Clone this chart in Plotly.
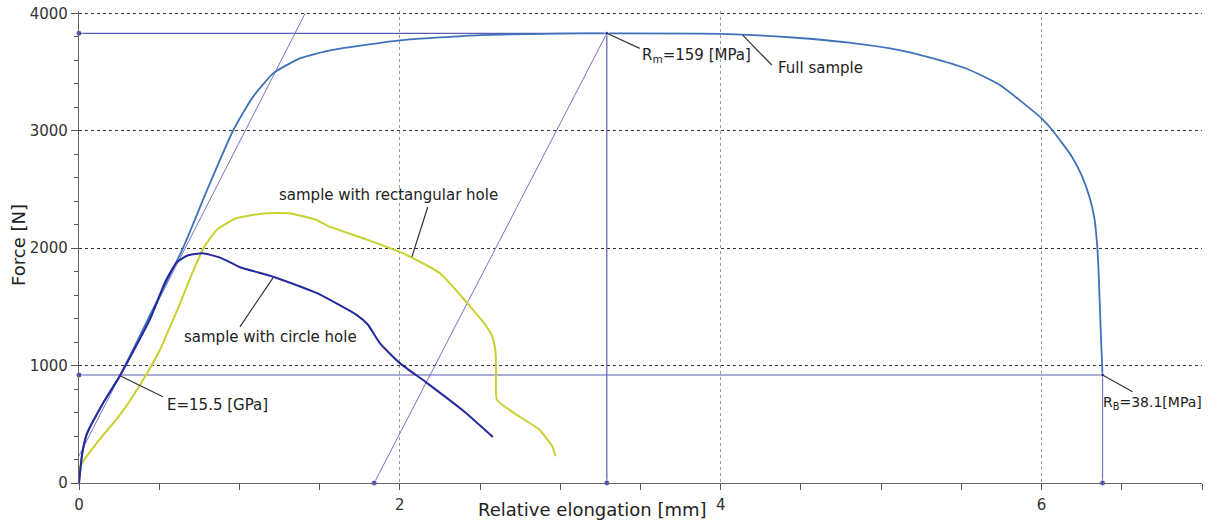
import plotly.graph_objects as go

# ---------------- data ----------------
full_x = [0, 0.02, 0.05, 0.15, 0.255, 0.45, 0.648, 0.80, 0.96, 1.08, 1.21, 1.377, 1.58, 2.0, 2.5, 3.0, 3.29,
          4.0, 4.49, 4.8, 5.12, 5.3, 5.53, 5.74, 6.0, 6.07, 6.19, 6.25, 6.30, 6.33, 6.345, 6.355, 6.37, 6.38]
full_y = [0, 250, 425, 680, 913, 1450, 2000, 2500, 3000, 3280, 3489, 3617, 3688, 3770, 3815, 3828, 3830,
          3826, 3790, 3750, 3685, 3625, 3530, 3390, 3106, 3000, 2777, 2620, 2430, 2250, 2050, 1815, 1247, 920]

circle_x = [0, 0.02, 0.05, 0.15, 0.255, 0.44, 0.54, 0.61, 0.68, 0.77, 0.88, 1.0, 1.21, 1.48, 1.73, 1.80, 1.875,
            2.0, 2.17, 2.39, 2.58]
circle_y = [0, 250, 420, 680, 913, 1387, 1720, 1880, 1940, 1956, 1920, 1840, 1757, 1619, 1432, 1350, 1191,
            1021, 851, 621, 391]

rect_x = [0, 0.006, 0.11, 0.255, 0.40, 0.505, 0.567, 0.63, 0.71, 0.78, 0.86, 0.98, 1.17, 1.31, 1.48, 1.55, 1.79,
          2.02, 2.25, 2.42, 2.54, 2.575, 2.595, 2.60, 2.605, 2.71, 2.87, 2.95, 2.97]
rect_y = [0, 140, 340, 580, 880, 1135, 1330, 1530, 1800, 2010, 2156, 2255, 2298, 2298, 2240, 2190, 2075,
          1956, 1787, 1532, 1333, 1250, 1130, 992, 710, 597, 454, 312, 227]

# characteristic values
rm_x, rm_y = 3.29, 3830          # ultimate strength point
rb_x, rb_y = 6.38, 920           # breaking point
offset_x = 1.84                  # parallel (unloading) line foot
e_line_x = [0, 1.41]             # modulus line
e_line_y = [231, 4000]

x_ticks = [0, 2, 4, 6]
y_ticks = [0, 1000, 2000, 3000, 4000]

labels = {
    "rm": "R<sub>m</sub>=159 [MPa]",
    "full": "Full sample",
    "rect": "sample with rectangular hole",
    "circle": "sample with circle hole",
    "e": "E=15.5 [GPa]",
    "rb": "R<sub>B</sub>=38.1[MPa]",
}

# ---------------- figure ----------------
FONT = "DejaVu Sans"
REF = "#5b5bb5"
REF2 = "#7474c4"
DOT = "#1a1aa6"

fig = go.Figure()

# reference lines
fig.add_trace(go.Scatter(x=[0, rm_x], y=[rm_y, rm_y], mode="lines", line=dict(color=REF, width=1.2),
                         hoverinfo="skip", showlegend=False))
fig.add_trace(go.Scatter(x=[0, rb_x], y=[rb_y, rb_y], mode="lines", line=dict(color=REF, width=1.2),
                         hoverinfo="skip", showlegend=False))
fig.add_trace(go.Scatter(x=[rm_x, rm_x], y=[0, rm_y], mode="lines", line=dict(color=REF, width=1.2),
                         hoverinfo="skip", showlegend=False))
fig.add_trace(go.Scatter(x=[rb_x, rb_x], y=[0, rb_y], mode="lines", line=dict(color=REF2, width=1.2),
                         hoverinfo="skip", showlegend=False))
fig.add_trace(go.Scatter(x=e_line_x, y=e_line_y, mode="lines", line=dict(color=REF2, width=1),
                         hoverinfo="skip", showlegend=False))
fig.add_trace(go.Scatter(x=[offset_x, rm_x], y=[0, rm_y], mode="lines", line=dict(color=REF2, width=1),
                         hoverinfo="skip", showlegend=False))

# curves
fig.add_trace(go.Scatter(x=rect_x, y=rect_y, mode="lines", line=dict(color="#c9d12e", width=2, shape="spline", smoothing=0.5),
                         name="rect", showlegend=False))
fig.add_trace(go.Scatter(x=full_x, y=full_y, mode="lines", line=dict(color="#3f72b9", width=1.8, shape="spline", smoothing=0.5),
                         name="full", showlegend=False))
fig.add_trace(go.Scatter(x=circle_x, y=circle_y, mode="lines", line=dict(color="#23299e", width=2, shape="spline", smoothing=0.5),
                         name="circle", showlegend=False))

# dots
fig.add_trace(go.Scatter(x=[0, 0, offset_x, rm_x, rb_x, rm_x, rb_x], y=[rm_y, rb_y, 0, 0, 0, rm_y, rb_y],
                         mode="markers", marker=dict(color=DOT, size=[6, 6, 6, 6, 6, 4, 4]),
                         cliponaxis=False, hoverinfo="skip", showlegend=False))

# leader lines (data coordinates)
leaders = [
    ((rm_x, rm_y), (3.495, 3702)),
    ((4.137, 3815), (4.318, 3560)),
    ((2.174, 2351), (2.075, 1926)),
    ((1.003, 1330), (1.209, 1747)),
    ((0.255, 913), (0.523, 734)),
    ((rb_x, rb_y), (6.567, 777)),
]
for (x0, y0), (x1, y1) in leaders:
    fig.add_shape(type="line", x0=x0, y0=y0, x1=x1, y1=y1, xref="x", yref="y",
                  line=dict(color="#333333", width=1.2))

texts = [
    (labels["rm"], 3.50, 3645, 15),
    (labels["full"], 4.35, 3535, 15),
    (labels["rect"], 1.24, 2453, 15),
    (labels["circle"], 0.648, 1245, 15),
    (labels["e"], 0.542, 666, 15),
    (labels["rb"], 6.375, 684, 14),
]
for t, x, y, s in texts:
    fig.add_annotation(x=x, y=y, text=t, showarrow=False, xanchor="left", yanchor="middle",
                       borderpad=0, font=dict(family=FONT, size=s, color="#222222"))

# axis titles
fig.add_annotation(xref="paper", yref="paper", x=0.457, y=-0.057, text="Relative elongation [mm]",
                   showarrow=False, xanchor="center", yanchor="middle",
                   font=dict(family=FONT, size=18, color="#222222"))
fig.add_annotation(xref="paper", yref="paper", x=-0.054, y=0.505, text="Force [N]", textangle=-90,
                   showarrow=False, xanchor="center", yanchor="middle",
                   font=dict(family=FONT, size=18, color="#222222"))

fig.update_xaxes(range=[0, 7], tickvals=x_ticks, ticktext=[str(v) for v in x_ticks], automargin=False,
                 showgrid=True, gridcolor="#9a9a9a", griddash="dot", gridwidth=1,
                 showline=True, linecolor="#666666", linewidth=1.2,
                 ticks="outside", ticklen=6, tickcolor="#555555", tickwidth=1.2,
                 minor=dict(dtick=0.5, tick0=0, ticks="outside", ticklen=6, tickcolor="#555555", showgrid=False),
                 zeroline=False, tickfont=dict(family=FONT, size=15, color="#333333"),
                 ticklabelstandoff=2)
fig.update_yaxes(range=[0, 4020], tickvals=y_ticks, ticktext=[str(v) for v in y_ticks], automargin=False,
                 showgrid=True, gridcolor="#333333", griddash="dot", gridwidth=1,
                 showline=True, linecolor="#666666", linewidth=1.2,
                 ticks="outside", ticklen=7, tickcolor="#555555", tickwidth=1.2,
                 minor=dict(dtick=200, tick0=0, ticks="outside", ticklen=4, tickcolor="#555555", showgrid=False),
                 zeroline=False, tickfont=dict(family=FONT, size=15, color="#333333"),
                 ticklabeloverflow="allow")

fig.update_layout(width=1220, height=524, margin=dict(l=79, r=18, t=10.6, b=41, autoexpand=False),
                  plot_bgcolor="white", paper_bgcolor="white", showlegend=False)

fig.write_html("out.html", config={"displayModeBar": False},
               post_script="document.body.style.margin='0';")
